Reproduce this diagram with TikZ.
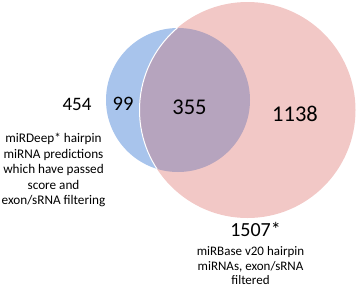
\documentclass[tikz,border=0pt]{standalone}
\usepackage{fontspec}
\setmainfont{Carlito}
\usepackage{xcolor}
\usetikzlibrary{positioning}

\definecolor{vennblue}{HTML}{A8C4EC}
\definecolor{vennpink}{HTML}{F2C8C6}
\definecolor{vennmix}{HTML}{B6A4BE}

\begin{document}
\begin{tikzpicture}[
    x=1pt, y=-1pt,
    count/.style={inner sep=0pt, font=\fontsize{19}{22}\selectfont},
    bigcount/.style={inner sep=0pt, font=\fontsize{22.5}{26}\selectfont},
    desc/.style={inner sep=0pt, align=center, font=\fontsize{13.2}{15.5}\selectfont}
]
    \useasboundingbox (0,0) rectangle (358,287);

    % Kreise
    \coordinate (cblue) at (178,100);
    \coordinate (cpink) at (247.5,110);
    \fill [vennblue] (cblue) circle (72);
    \fill [vennpink] (cpink) circle (108);
    \begin{scope}
        \clip (cblue) circle (72);
        \fill [vennmix] (cpink) circle (108);
        \draw [white, line width=1pt] (cpink) circle (108);
    \end{scope}

    % Zahlen
    \node (n454) [count] at (77,104) {454};
    \node (n99) [count, font=\fontsize{20.5}{24}\selectfont] at (123,104) {99};
    \node (n355) [bigcount] at (189.5,107) {355};
    \node (n1138) [bigcount] at (295,114) {1138};
    \node (n1507) [count, font=\fontsize{20}{24}\selectfont] at (255.5,229) {1507*};

    % Beschriftungen
    \node (lblmirdeep) [desc, anchor=north] at (53.5,133) {miRDeep* hairpin\\miRNA predictions\\which have passed\\score and\\exon/sRNA filtering};
    \node (lblmirbase) [desc, anchor=north, font=\fontsize{13}{14.8}\selectfont] at (250.5,246) {miRBase v20 hairpin\\miRNAs, exon/sRNA\\filtered};

\end{tikzpicture}
\end{document}
